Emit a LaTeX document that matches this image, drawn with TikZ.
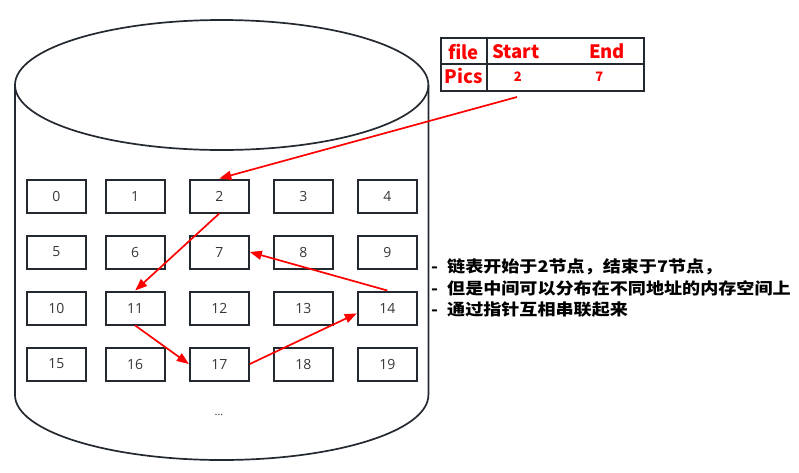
\documentclass[tikz,border=0pt]{standalone}
\usepackage{fontspec}
\newfontfamily\cjk{Noto Sans CJK SC}
\newfontfamily\numfont{Open Sans}
\usetikzlibrary{arrows.meta}
\definecolor{ink}{RGB}{35,41,47}
\definecolor{txtgray}{RGB}{55,55,55}
\begin{document}
\begin{tikzpicture}[x=1pt,y=-1pt,
  cell/.style={draw=ink, line width=2pt, minimum width=59pt, minimum height=33pt, inner sep=0pt,
    font=\numfont\fontsize{14}{16}\selectfont, text=txtgray},
  link/.style={draw=red, line width=1.7pt, -{Triangle[length=12pt,width=9pt]}},
  lbl/.style={text=red, font=\cjk\bfseries\fontsize{18.5}{20}\selectfont, inner sep=0pt},
  small/.style={text=red, font=\cjk\bfseries\fontsize{13}{15}\selectfont, inner sep=0pt},
  note/.style={anchor=west, inner sep=0pt, text=black, font=\cjk\bfseries\fontsize{16}{18}\selectfont},
  cyl/.style={draw=ink, line width=1.7pt}]
\useasboundingbox (0,0) rectangle (799,472);
% cylinder
\draw[cyl] (221.7,85) ellipse [x radius=206.7, y radius=65];
\draw[cyl] (15,85) -- (15,395) arc[start angle=180, end angle=0, x radius=206.7, y radius=65] -- (428.4,85);
\node[font=\numfont\fontsize{11}{12}\selectfont, text=txtgray] (dots) at (219,415) {...};
% cells
\foreach \r/\y in {0/196,1/252,2/308,3/364}{
  \foreach \c/\x in {0/56.3,1/135.2,2/219.3,3/303.3,4/387.3}{
    \pgfmathtruncatemacro{\n}{\r*5+\c}
    \node[cell] (b\n) at (\x,\y) {\n};
  }
}
% table
\node[draw=ink, line width=2.2pt, minimum width=203.3pt, minimum height=52.4pt, inner sep=0pt] (tbl) at (542.3,64.5) {};
\draw[draw=ink, line width=2.2pt] (487.3,38.3) -- (487.3,90.7);
\draw[draw=ink, line width=1.8pt] (440.7,64.3) -- (644,64.3);
\node[lbl] (hfile) at (463.5,51.5) {file};
\node[lbl] (hstart) at (516,51.5) {Start};
\node[lbl] (hend) at (607,51.5) {End};
\node[lbl] (hpics) at (464,76) {Pics};
\node[small] (vs) at (517.7,77) {2};
\node[small] (ve) at (599.3,77) {7};
% links
\coordinate (p) at (517,97);
\draw[link] (p) -- (b2.north);
\draw[link] (b2.south) -- (b11.north);
\draw[link] (b11.south) -- (b17.west);
\draw[link] (b17.east) -- (b14.190);
\draw[link] (b14.north) -- (b7.east);
% notes
\node[note] (t1) at (431,267) {\scalebox{1.13}[1]{-\hspace{8pt}链表开始于2节点，结束于7节点，}};
\node[note] (t2) at (431,288.5) {\scalebox{1.13}[1]{-\hspace{8pt}但是中间可以分布在不同地址的内存空间上}};
\node[note] (t3) at (431,310) {\scalebox{1.13}[1]{-\hspace{8pt}通过指针互相串联起来}};
\end{tikzpicture}
\end{document}
